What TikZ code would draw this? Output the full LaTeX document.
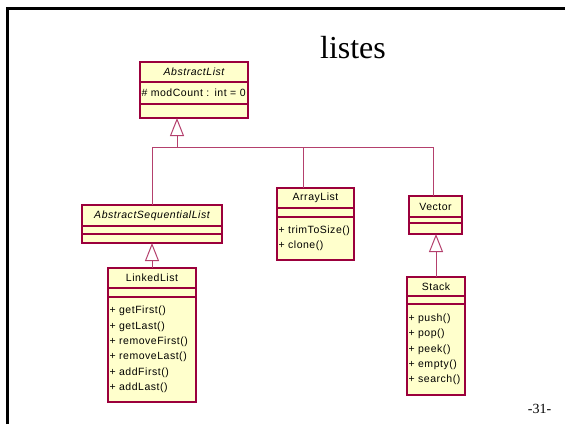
\documentclass[tikz,border=0pt]{standalone}
\usepackage{fontspec}
\setmainfont{Liberation Serif}
\newfontfamily\umlfont[LetterSpace=5]{Liberation Sans}
\usepackage{tikz}
\usetikzlibrary{shapes}
\usetikzlibrary{positioning,arrows.meta}
\definecolor{umlred}{RGB}{155,0,60}
\definecolor{umlfill}{RGB}{255,255,204}
\tikzset{
  uml/.style={draw=umlred,fill=umlfill,line width=1.3pt,outer sep=0pt,inner sep=2pt,
    font=\umlfont\fontsize{10.5}{15.3}\selectfont},
  ops/.style={uml,align=left,inner xsep=1.5pt},
  conn/.style={draw=umlred!75,line width=1pt},
  gen/.style={conn,-{Triangle[open,length=18pt,width=14pt]}}
}

\begin{document}
\begin{tikzpicture}[x=1pt,y=-1pt]
        \useasboundingbox (0,0) rectangle (565,424);
        \draw[line width=3pt] (7.5,424) -- (7.5,8.5) -- (565,8.5);
        \node[anchor=base,font=\fontsize{32}{36}\selectfont] (title) at (353,58) {listes};
        \node[anchor=base,font=\fontsize{14}{16}\selectfont] (page) at (539.5,413) {-31-};

        \node[uml,anchor=north west,minimum width=108pt,minimum height=20pt] (al) at (140,62) {\itshape AbstractList};
        \node[ops,below=0pt of al,text width=105pt,minimum height=22pt] (al-attr) {\# modCount : int = 0};
        \node[uml,below=0pt of al-attr,minimum width=108pt,minimum height=14pt] (al-ops) {};

        \node[uml,anchor=north west,minimum width=140pt,minimum height=21pt] (asl) at (82,205) {\itshape AbstractSequentialList};
        \node[uml,below=0pt of asl,minimum width=140pt,minimum height=8pt] (asl-attr) {};
        \node[uml,below=0pt of asl-attr,minimum width=140pt,minimum height=9pt] (asl-ops) {};

        \node[uml,anchor=north west,minimum width=88pt,minimum height=20pt] (ll) at (108,268) {LinkedList};
        \node[uml,below=0pt of ll,minimum width=88pt,minimum height=9pt] (ll-attr) {};
        \node[ops,below=0pt of ll-attr,text width=85pt,minimum height=105pt] (ll-ops) {+ getFirst()\\+ getLast()\\+ removeFirst()\\+ removeLast()\\+ addFirst()\\+ addLast()};

        \node[uml,anchor=north west,minimum width=77pt,minimum height=20pt] (arr) at (277,188) {ArrayList};
        \node[uml,below=0pt of arr,minimum width=77pt,minimum height=9pt] (arr-attr) {};
        \node[ops,below=0pt of arr-attr,text width=74pt,minimum height=43pt] (arr-ops) {+ trimToSize()\\+ clone()};

        \node[uml,anchor=north west,minimum width=53pt,minimum height=21pt] (vec) at (409,196) {Vector};
        \node[uml,below=0pt of vec,minimum width=53pt,minimum height=6pt] (vec-attr) {};
        \node[uml,below=0pt of vec-attr,minimum width=53pt,minimum height=11pt] (vec-ops) {};

        \node[uml,anchor=north west,minimum width=58pt,minimum height=19pt] (st) at (407,277) {Stack};
        \node[uml,below=0pt of st,minimum width=58pt,minimum height=8pt] (st-attr) {};
        \node[ops,below=0pt of st-attr,text width=55pt,minimum height=91pt] (st-ops) {+ push()\\+ pop()\\+ peek()\\+ empty()\\+ search()};

        \coordinate (fork) at (177,147);
        \coordinate (arr-in) at ([xshift=-12.5pt]arr.north);
        \coordinate (vec-in) at ([xshift=-2.5pt]vec.north);
        \draw[gen] (fork) -- (al-ops.south -| fork);
        \draw[conn] (asl.north) |- (fork -| vec-in) -- (vec-in);
        \draw[conn] (arr-in) -- (arr-in |- fork);
        \draw[gen] (ll.north) -- (asl-ops.south);
        \draw[gen] (st.north) -- (vec-ops.south -| st.north);
      \end{tikzpicture}
\end{document}
